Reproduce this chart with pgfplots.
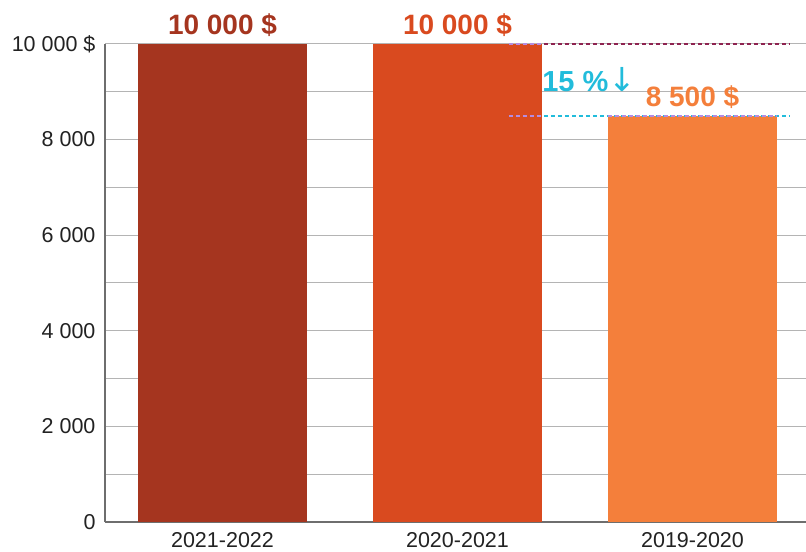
\documentclass[border=0pt]{standalone}
\usepackage{fontspec}
\setmainfont{Liberation Sans}
\newfontfamily\dejavu{DejaVu Sans}
\usepackage{pgfplots}
\pgfplotsset{compat=1.18}
\definecolor{c1}{HTML}{A5351F}
\definecolor{c2}{HTML}{D94A1F}
\definecolor{c3}{HTML}{F47F3B}
\definecolor{cyn}{HTML}{22BCDB}
\definecolor{lav}{HTML}{B58CE0}
\definecolor{mar}{HTML}{8E2350}
\definecolor{gridc}{HTML}{B4B4B4}
\definecolor{axc}{HTML}{6E6E6E}
\definecolor{txt}{HTML}{222222}
\begin{document}
\begin{tikzpicture}
\begin{axis}[
 at={(0,0)}, anchor=south west,
 scale only axis, width=701bp, height=478bp,
 xmin=-0.5, xmax=2.483, ymin=0, ymax=10000,
 scaled y ticks=false,
 ybar, bar width=169bp, bar shift=0pt,
 xtick={0,1,2}, xticklabels={2021-2022,2020-2021,2019-2020},
 ytick={0,2000,4000,6000,8000,10000},
 yticklabels={0,2 000,4 000,6 000,8 000,10 000 \$},
 minor ytick={1000,3000,5000,7000,9000},
 ymajorgrids, yminorgrids,
 major grid style={gridc, line width=1bp},
 minor grid style={gridc, line width=1bp},
 axis x line*=bottom, axis y line*=left,
 axis line style={axc, line width=1.2bp, -},
 major tick length=0pt, minor tick length=0pt,
 tick label style={font=\fontsize{21.5bp}{24bp}\selectfont, text=txt},
 xticklabel style={yshift=-6.5bp},
 yticklabel style={xshift=-6bp},
 /pgf/number format/assume math mode=true,
 clip=false,
 point meta=explicit symbolic,
 nodes near coords,
 nodes near coords style={font=\fontsize{28bp}{30bp}\selectfont\bfseries, anchor=base, yshift=9bp, inner sep=0pt},
]
\addplot[fill=c1, draw=none, every node near coord/.append style={text=c1}] coordinates {(0,10000) [10 000 \$]};
\addplot[fill=c2, draw=none, every node near coord/.append style={text=c2}] coordinates {(1,10000) [10 000 \$]};
\addplot[fill=c3, draw=none, every node near coord/.append style={text=c3}] coordinates {(2,8500) [8 500 \$]};
\coordinate (tA) at (axis cs:1.219,10000);
\coordinate (tB) at (axis cs:1.36,10000);
\coordinate (tC) at (axis cs:2.411,10000);
\coordinate (bA) at (axis cs:1.219,8500);
\coordinate (bB) at (axis cs:1.36,8500);
\coordinate (bC) at (axis cs:1.64,8500);
\coordinate (bD) at (axis cs:2.36,8500);
\coordinate (bE) at (axis cs:2.411,8500);
\coordinate (pc) at (axis cs:1.36,9000);
\end{axis}
\draw[draw=mar, line width=1.8bp, dash pattern=on 4bp off 3bp] (tA) -- (tC);
\draw[draw=lav, line width=1.8bp, dash pattern=on 4bp off 3bp] (tA) -- (tB);
\draw[draw=cyn, line width=2bp, dash pattern=on 4bp off 3bp] (bA) -- (bE);
\draw[draw=lav, line width=2bp, dash pattern=on 4bp off 3bp] (bA) -- (bB);
\draw[draw=lav, line width=2bp, dash pattern=on 4bp off 3bp] (bC) -- (bD);
\node[anchor=base west, inner sep=0pt, text=cyn] at (pc) {\fontsize{29bp}{32bp}\selectfont\bfseries 15 \%{\dejavu\mdseries\fontsize{33bp}{34bp}\selectfont ↓}};
\pgfresetboundingbox
\useasboundingbox (-105bp,-30bp) rectangle (701bp,522bp);
\end{tikzpicture}
\end{document}
